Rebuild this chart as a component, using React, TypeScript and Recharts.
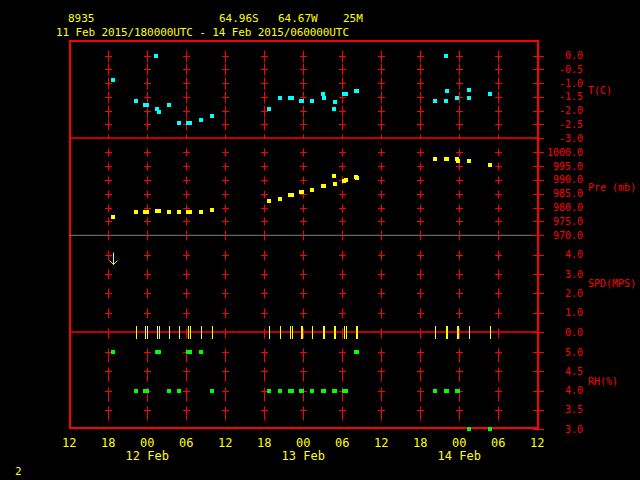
import { ScatterChart, Scatter, XAxis, YAxis, ReferenceLine } from "recharts";

const RED = "#ff0000";
const YELLOW = "#ffff00";
const CYAN = "#00ffff";
const GREEN = "#00ff00";
const MONO = "'DejaVu Sans Mono', 'Liberation Mono', monospace";

// x is hours since 11 Feb 2015 12 UTC
const hourTicks = [0, 6, 12, 18, 24, 30, 36, 42, 48, 54, 60, 66, 72];
const hourLabels = ["12", "18", "00", "06", "12", "18", "00", "06", "12", "18", "00", "06", "12"];
const dayTicks = [12, 36, 60];
const dayLabels = ["12 Feb", "13 Feb", "14 Feb"];
const gridHours = [6, 12, 18, 24, 30, 36, 42, 48, 54, 60, 66];

const tempHours = [
  6.7, 10.3, 11.7, 12.0, 13.4, 13.5, 13.8, 15.3, 16.9, 18.3, 18.6, 20.3, 21.9,
  30.7, 32.4, 34.0, 34.2, 35.6, 35.8, 37.3, 39.0, 39.2, 40.7, 40.9, 42.3, 42.6, 44.1, 44.3,
  56.3, 58.0, 58.0, 58.1, 59.7, 61.5, 61.5, 64.7,
];
const tempValues = [
  -0.9, -1.65, -1.8, -1.8, 0.0, -1.95, -2.05, -1.8, -2.45, -2.45, -2.45, -2.35, -2.2,
  -1.95, -1.55, -1.55, -1.55, -1.65, -1.65, -1.65, -1.4, -1.55, -1.95, -1.7, -1.4, -1.4, -1.3, -1.3,
  -1.65, 0.0, -1.65, -1.3, -1.55, -1.25, -1.55, -1.4,
];

const obsHours = [
  6.7, 10.3, 11.7, 12.0, 13.5, 13.8, 15.3, 16.9, 18.3, 18.6, 20.3, 21.9,
  30.7, 32.4, 34.0, 34.2, 35.6, 35.8, 37.3, 39.0, 39.2, 40.7, 40.9, 42.3, 42.6, 44.1, 44.3,
  56.3, 57.9, 58.1, 59.6, 59.8, 61.5, 64.7,
];
const presValues = [
  976.7, 978.5, 978.5, 978.5, 978.9, 978.9, 978.5, 978.5, 978.5, 978.5, 978.5, 979.3,
  982.5, 983.2, 984.7, 984.7, 985.8, 985.8, 986.5, 987.9, 987.9, 991.5, 988.6, 989.5, 990.1, 991.2, 990.8,
  997.7, 997.7, 997.7, 997.7, 997.0, 997.0, 995.5,
];
const speedValues = [
  3.8, 0, 0, 0, 0, 0, 0, 0, 0, 0, 0, 0,
  0, 0, 0, 0, 0, 0, 0, 0, 0, 0, 0, 0, 0, 0, 0,
  0, 0, 0, 0, 0, 0, 0,
];
const rhValues = [
  5, 4, 4, 4, 5, 5, 4, 4, 5, 5, 5, 4,
  4, 4, 4, 4, 4, 4, 4, 4, 4, 4, 4, 4, 4, 5, 5,
  4, 4, 4, 4, 4, 3, 3,
];

const tempTicks = [0, -0.5, -1, -1.5, -2, -2.5, -3];
const presTicks = [1000, 995, 990, 985, 980, 975, 970];
const speedTicks = [4, 3, 2, 1, 0];
const rhTicks = [5, 4.5, 4, 3.5, 3];

const W = 640;
const X0 = 69.3;
const X1 = 537.3;
const YW = 60;
const PAD = 12;
const AXIS_H = 40;
const LABEL_RIGHT = 583;

const toPoints = (hs: number[], vs: number[]) => hs.map((h, i) => ({ h, v: vs[i] }));
// snap to pixel centre so 1px lines stay crisp and full colour
const snap = (n: number) => Math.round(n) + 0.5;

function crossShape(up: number, down: number, arm: number) {
  return (p: any) => {
    const cx = snap(p.cx ?? 0);
    const cy = snap(p.cy ?? 0);
    return (
      <g>
        <line x1={cx} x2={cx} y1={cy - up} y2={cy + down} stroke={RED} strokeWidth={1} />
        {arm > 0 && <line x1={cx - arm} x2={cx + arm} y1={cy} y2={cy} stroke={RED} strokeWidth={1} />}
      </g>
    );
  };
}

function squareShape(color: string) {
  return (p: any) => (
    <rect x={Math.round((p.cx ?? 0) - 2)} y={Math.round((p.cy ?? 0) - 2)} width={4} height={4} fill={color} />
  );
}

function windShape(p: any) {
  const cx = snap(p.cx ?? 0);
  const cy = p.cy ?? 0;
  const v = p.payload ? p.payload.v : 0;
  if (v > 0) {
    return (
      <g stroke={YELLOW} strokeWidth={1} fill="none">
        <line x1={cx} x2={cx} y1={cy - 6} y2={cy + 6} />
        <polyline points={`${cx - 4},${cy + 2} ${cx},${cy + 6} ${cx + 4},${cy + 2}`} />
      </g>
    );
  }
  return <line x1={cx} x2={cx} y1={cy - 6} y2={cy + 7} stroke={YELLOW} strokeWidth={1} />;
}

function RightTick(props: any) {
  const { y, payload } = props;
  const sy = snap(y);
  return (
    <g>
      <line x1={533} x2={544} y1={sy} y2={sy} stroke={RED} strokeWidth={1} />
      <text x={LABEL_RIGHT} y={y} textAnchor="end" dominantBaseline="central" fill={RED} fontSize={10} fontFamily={MONO}>
        {Number(payload.value).toFixed(1)}
      </text>
    </g>
  );
}

function hourTick(baseY: number) {
  return (props: any) => {
    const { x, payload } = props;
    const i = hourTicks.indexOf(payload.value);
    const d = dayTicks.indexOf(payload.value);
    return (
      <g fill={YELLOW} fontSize={12} fontFamily={MONO}>
        <text x={x} y={baseY + 14.2} textAnchor="middle" dominantBaseline="central">{hourLabels[i]}</text>
        {d >= 0 && (
          <text x={x} y={baseY + 27.2} textAnchor="middle" dominantBaseline="central">{dayLabels[d]}</text>
        )}
      </g>
    );
  };
}

interface PanelProps {
  top: number;
  bottom: number;
  domain: [number, number];
  ticks: number[];
  crossRows: number[];
  cross: (p: any) => any;
  stubRows: number[];
  stub?: (p: any) => any;
  series: { data: { h: number; v: number }[]; shape: (p: any) => any }[];
  lines: { y: number; color: string; width: number }[];
  showHours?: boolean;
}

function Panel({ top, bottom, domain, ticks, crossRows, cross, stubRows, stub, series, lines, showHours }: PanelProps) {
  const plotH = bottom - top;
  const height = PAD + plotH + (showHours ? AXIS_H : 0) + PAD;
  const grid = gridHours.flatMap((h) => crossRows.map((v) => ({ h, v })));
  const stubs = gridHours.flatMap((h) => stubRows.map((v) => ({ h, v })));
  return (
    <div style={{ position: "absolute", left: 0, top: top - PAD }}>
      <ScatterChart
        width={W}
        height={height}
        margin={{ top: PAD, bottom: PAD, left: X0, right: W - X1 - YW }}
      >
        <XAxis
          type="number"
          dataKey="h"
          domain={[0, 72]}
          ticks={hourTicks}
          interval={0}
          hide={!showHours}
          height={AXIS_H}
          axisLine={false}
          tickLine={false}
          tick={hourTick(PAD + plotH)}
        />
        <YAxis
          type="number"
          dataKey="v"
          orientation="right"
          width={YW}
          domain={domain}
          ticks={ticks}
          interval={0}
          axisLine={false}
          tickLine={false}
          tick={(p: any) => <RightTick {...p} />}
        />
        <Scatter data={grid} shape={cross} isAnimationActive={false} />
        {stub && stubs.length > 0 && <Scatter data={stubs} shape={stub} isAnimationActive={false} />}
        {series.map((s, i) => (
          <Scatter key={i} data={s.data} shape={s.shape} isAnimationActive={false} />
        ))}
        {lines.map((l) => (
          <ReferenceLine key={l.y} y={l.y} stroke={l.color} strokeWidth={l.width} />
        ))}
      </ScatterChart>
    </div>
  );
}

export default function App() {
  const tempData = toPoints(tempHours, tempValues);
  const presData = toPoints(obsHours, presValues);
  const speedData = toPoints(obsHours, speedValues);
  const rhData = toPoints(obsHours, rhValues);

  return (
    <div style={{ position: "absolute", left: 0, top: 0, width: 640, height: 480, background: "#000", overflow: "hidden" }}>
      <svg width={640} height={480} style={{ position: "absolute", left: 0, top: 0 }}>
        <g fill={YELLOW} fontSize={11} fontFamily={MONO} dominantBaseline="central">
          <text x={68} y={18.5}>8935</text>
          <text x={219} y={18.5}>64.96S</text>
          <text x={278} y={18.5}>64.67W</text>
          <text x={343} y={18.5}>25M</text>
          <text x={56} y={32} textLength={293} lengthAdjust="spacing">
            11 Feb 2015/180000UTC - 14 Feb 2015/060000UTC
          </text>
          <text x={15} y={471}>2</text>
        </g>
        <g fill={RED} fontSize={10} fontFamily={MONO} dominantBaseline="central">
          <text x={588} y={90}>T(C)</text>
          <text x={588} y={187}>Pre (mb)</text>
          <text x={588} y={283}>SPD(MPS)</text>
          <text x={588} y={381}>RH(%)</text>
        </g>
      </svg>
      <div
        style={{
          position: "absolute",
          left: 69,
          top: 40,
          width: 470,
          height: 389,
          border: `2.5px solid ${RED}`,
          boxSizing: "border-box",
        }}
      />
      <Panel
        top={41}
        bottom={138}
        domain={[-3, 0.53]}
        ticks={tempTicks}
        crossRows={[0, -0.5, -1, -1.5, -2, -2.5]}
        cross={crossShape(6, 6, 3.5)}
        stubRows={[-3]}
        stub={crossShape(4, 0, 0)}
        series={[{ data: tempData, shape: squareShape(CYAN) }]}
        lines={[{ y: -3, color: RED, width: 1.5 }]}
      />
      <Panel
        top={138}
        bottom={235.3}
        domain={[970, 1005.17]}
        ticks={presTicks}
        crossRows={[1000, 995, 990, 985, 980, 975]}
        cross={crossShape(4, 4, 3.5)}
        stubRows={[970]}
        stub={crossShape(5, 5, 0)}
        series={[{ data: presData, shape: squareShape(YELLOW) }]}
        lines={[{ y: 970, color: "#808080", width: 1 }]}
      />
      <Panel
        top={235.3}
        bottom={332.3}
        domain={[0, 5.02]}
        ticks={speedTicks}
        crossRows={[4, 3, 2, 1]}
        cross={crossShape(5, 5, 3.5)}
        stubRows={[0]}
        stub={crossShape(4, 6, 0)}
        series={[{ data: speedData, shape: windShape }]}
        lines={[{ y: 0, color: RED, width: 1.5 }]}
      />
      <Panel
        top={332.3}
        bottom={429.3}
        domain={[3, 5.53]}
        ticks={rhTicks}
        crossRows={[5, 4.5, 4, 3.5]}
        cross={crossShape(4, 10, 3.5)}
        stubRows={[]}
        series={[{ data: rhData, shape: squareShape(GREEN) }]}
        lines={[]}
        showHours
      />
    </div>
  );
}
